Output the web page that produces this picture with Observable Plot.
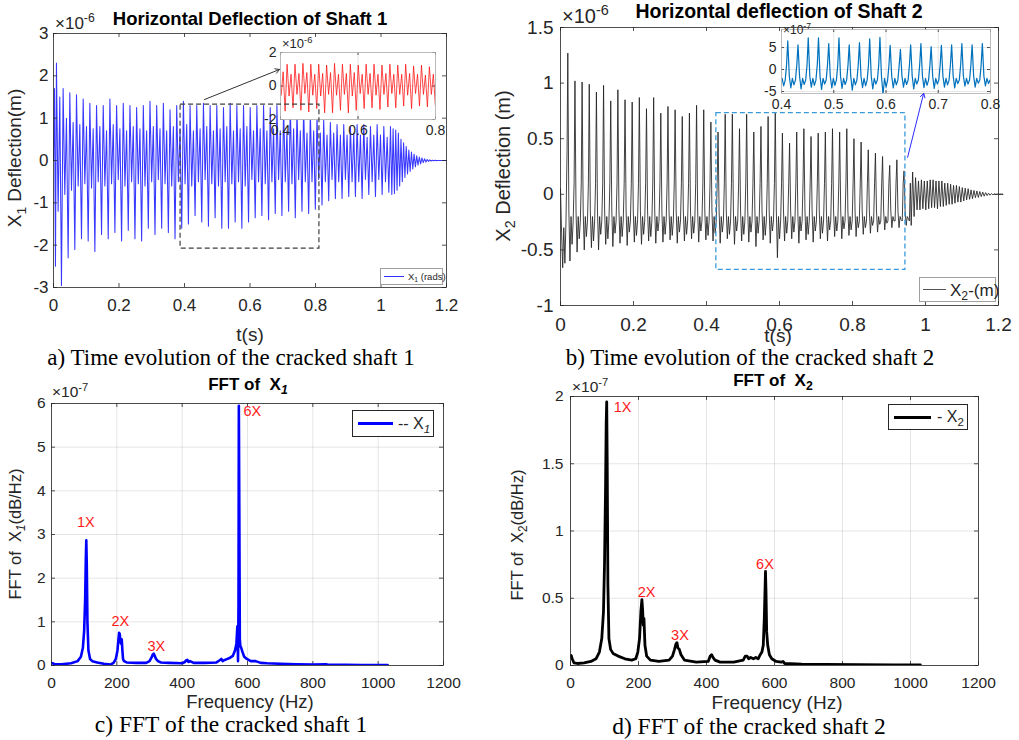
<!DOCTYPE html>
<html><head><meta charset="utf-8">
<script src="https://cdn.jsdelivr.net/npm/d3@7"></script>
<script src="https://cdn.jsdelivr.net/npm/@observablehq/plot@0.6"></script>
<style>
body{margin:0;background:#fff;}
#root{position:relative;width:1019px;height:740px;overflow:hidden;background:#fff;font-family:"Liberation Sans",Arial,sans-serif;color:#262626;}
.sub{font-size:0.72em;position:relative;top:0.35em;}
.sup{font-size:0.72em;position:relative;top:-0.55em;}
</style></head><body><div id="root"></div><script>
// ---------------- DATA ----------------
// a) Shaft 1 horizontal deflection (x1e-6 m), cycle extrema
const aStart = [[0, 0], [0.003, 1.7], [0.006, -2.5]];
const aCycleStart = 0.009, aPeriod = 0.0204;
const aPeak = [2.3, 1.7, 1.6, 1.55, 1.45, 1.35, 1.3, 1.3, 1.45, 1.3,
  1.35, 1.3, 1.25, 1.3, 1.4, 1.3, 1.35, 1.2, 1.3, 1.4,
  1.3, 1.3, 1.35, 1.3, 1.3, 1.25, 1.35, 1.3, 1.3, 1.25,
  1.3, 1.3, 1.25, 1.3, 1.25, 1.3, 1.2, 1.25, 1.15, 1.05,
  0.95, 0.9, 0.85, 0.85, 0.8, 0.85, 0.85, 0.8, 0.85, 0.8];
const aDip = [-1.2, -0.8, -0.7, -0.6, -0.55, -0.65, -0.5, -0.6, -0.55, -0.45,
  -0.6, -0.5, -0.55, -0.6, -0.5, -0.45, -0.55, -0.6, -0.5, -0.55,
  -0.6, -0.5, -0.45, -0.55, -0.6, -0.5, -0.55, -0.5, -0.6, -0.45,
  -0.5, -0.55, -0.5, -0.45, -0.5, -0.55, -0.45, -0.5, -0.5, -0.45,
  -0.5, -0.45, -0.5, -0.45, -0.5, -0.5, -0.45, -0.5, -0.45, -0.5];
const aMid = [1.5, 1.0, 0.9, 0.85, 0.8, 0.75, 0.8, 0.7, 0.85, 0.75,
  0.7, 0.8, 0.75, 0.7, 0.8, 0.75, 0.7, 0.8, 0.75, 0.85,
  0.7, 0.75, 0.8, 0.7, 0.75, 0.8, 0.7, 0.75, 0.8, 0.7,
  0.75, 0.7, 0.75, 0.7, 0.7, 0.75, 0.7, 0.65, 0.7, 0.65,
  0.6, 0.65, 0.6, 0.6, 0.65, 0.6, 0.55, 0.6, 0.6, 0.55];
const aTrough = [-2.95, -2.3, -2.1, -1.85, -1.9, -2.15, -1.75, -1.85, -1.7, -1.9,
  -1.65, -1.85, -1.9, -1.6, -1.75, -1.6, -1.7, -1.85, -1.6, -1.5,
  -1.3, -1.45, -1.55, -1.35, -1.6, -1.6, -1.45, -1.6, -1.45, -1.35,
  -1.3, -1.4, -1.25, -1.3, -1.2, -1.35, -1.2, -1.25, -1.15, -1.05,
  -0.95, -0.9, -0.9, -0.85, -0.85, -0.9, -0.8, -0.85, -0.8, -0.75];
const aTailStep = 0.004;
const aTail = [0.8, -0.8, 0.75, -0.78, 0.72, -0.7, 0.65, -0.6, 0.5, -0.5,
  0.42, -0.4, 0.33, -0.32, 0.25, -0.26, 0.2, -0.2, 0.15, -0.15,
  0.11, -0.11, 0.08, -0.08, 0.06, -0.05, 0.04, -0.035, 0.025, -0.02,
  0.015, -0.012, 0.008, -0.006, 0.004, -0.003, 0.002, -0.001, 0, 0, 0, 0];

// b) Shaft 2 horizontal deflection (x1e-6 m)
const bStart = [[0, 0.05], [0.003, -0.35], [0.006, -0.66], [0.009, -0.3], [0.012, -0.62], [0.015, -0.25], [0.018, 0.4]];
const bCycleStart = 0.02, bPeriod = 0.0196;
const bPeak = [1.27, 1.02, 1.01, 0.99, 0.92, 0.98, 0.84, 0.94, 0.85, 0.83,
  0.87, 0.77, 0.87, 0.73, 0.79, 0.76, 0.70, 0.73, 0.80, 0.76,
  0.65, 0.56, 0.72, 0.72, 0.59, 0.72, 0.56, 0.61, 0.70, 0.73,
  0.55, 0.46, 0.56, 0.59, 0.52, 0.55, 0.56, 0.59, 0.56, 0.59,
  0.50, 0.47, 0.40, 0.37, 0.34, 0.26, 0.31, 0.21];
const bLowA = [-0.6, -0.52, -0.5, -0.48, -0.5, -0.45, -0.47, -0.44, -0.46, -0.43,
  -0.45, -0.42, -0.44, -0.43, -0.41, -0.44, -0.42, -0.4, -0.43, -0.41,
  -0.42, -0.44, -0.4, -0.45, -0.42, -0.43, -0.47, -0.41, -0.44, -0.57,
  -0.42, -0.4, -0.44, -0.41, -0.43, -0.4, -0.42, -0.38, -0.4, -0.37,
  -0.38, -0.36, -0.35, -0.34, -0.32, -0.3, -0.3, -0.28];
const bLowB = [-0.45, -0.4, -0.38, -0.42, -0.36, -0.4, -0.35, -0.38, -0.34, -0.37,
  -0.36, -0.38, -0.33, -0.36, -0.37, -0.34, -0.36, -0.35, -0.33, -0.37,
  -0.35, -0.34, -0.36, -0.33, -0.36, -0.34, -0.35, -0.37, -0.33, -0.4,
  -0.35, -0.34, -0.33, -0.36, -0.33, -0.35, -0.32, -0.33, -0.31, -0.32,
  -0.3, -0.3, -0.28, -0.27, -0.26, -0.24, -0.23, -0.22];
const bInner = [-0.15, -0.2, -0.24, 0.1]; // knee, mid, mid2, rising shoulder
const bTailStep = 0.004;
const bTail = [-0.28, 0.2, -0.2, 0.15, -0.14, 0.12, -0.14, 0.13, -0.13, 0.12,
  -0.14, 0.12, -0.13, 0.13, -0.12, 0.13, -0.12, 0.12, -0.13, 0.12,
  -0.11, 0.12, -0.11, 0.1, -0.1, 0.1, -0.09, 0.09, -0.09, 0.08,
  -0.08, 0.08, -0.07, 0.07, -0.07, 0.06, -0.06, 0.055, -0.05, 0.05,
  -0.045, 0.04, -0.04, 0.035, -0.03, 0.03, -0.028, 0.025, -0.02, 0.02,
  -0.017, 0.015, -0.012, 0.01, -0.008, 0.007, -0.005, 0.004, -0.003, 0.002,
  -0.001, 0.001, 0, 0];

// c) FFT of X1 (x1e-7)
const fft1Freq = [0, 3, 10, 30, 60, 80, 90, 96, 100, 103, 105, 106.5, 108, 110, 113, 118, 125, 140, 160, 180,
  190, 197, 202, 205, 207, 209, 211, 213, 215, 217, 219, 222, 230, 260, 290, 300, 306, 310, 313, 316,
  320, 326, 335, 360, 400, 408, 413, 416, 419, 424, 435, 470, 505, 515, 520, 524, 528, 535, 545, 555,
  562, 566, 569, 571, 572.5, 573.5, 575, 576.5, 578, 581, 585, 590, 598, 610, 625, 640, 660, 700, 750, 800,
  840, 845, 900, 950, 1000, 1029];
const fft1Amp = [0.06, 0.05, 0.03, 0.03, 0.05, 0.1, 0.2, 0.4, 0.8, 1.5, 2.4, 2.87, 2.3, 1.0, 0.35, 0.15, 0.1, 0.07, 0.04, 0.02,
  0.06, 0.15, 0.35, 0.6, 0.75, 0.72, 0.55, 0.5, 0.6, 0.35, 0.15, 0.1, 0.07, 0.06, 0.06, 0.1, 0.18, 0.25, 0.27, 0.22,
  0.15, 0.1, 0.07, 0.06, 0.05, 0.08, 0.12, 0.13, 0.08, 0.1, 0.06, 0.06, 0.07, 0.12, 0.15, 0.1, 0.12, 0.14, 0.17, 0.22,
  0.35, 0.5, 0.9, 0.1, 1.4, 5.95, 3.5, 0.6, 0.45, 0.4, 0.3, 0.2, 0.15, 0.1, 0.1, 0.06, 0.05, 0.04, 0.03, 0.02,
  0.025, 0.02, 0.015, 0.012, 0.01, 0.01];
// d) FFT of X2 (x1e-7)
const fft2Freq = [0, 2, 5, 10, 20, 40, 60, 75, 85, 92, 97, 100, 103, 105, 106.5, 108, 110, 113, 118, 125,
  140, 160, 180, 192, 198, 203, 207, 210, 212, 214, 216, 219, 224, 235, 260, 290, 300, 306, 310, 313,
  316, 320, 325, 335, 370, 405, 411, 415, 419, 425, 440, 480, 508, 514, 519, 524, 530, 538, 545, 552,
  558, 563, 567, 570, 572, 573.5, 575, 577, 580, 585, 592, 605, 620, 625, 630, 680, 750, 850, 950, 1029];
const fft2Amp = [0.07, 0.075, 0.05, 0.02, 0.015, 0.02, 0.03, 0.05, 0.1, 0.2, 0.4, 0.75, 1.3, 1.8, 1.96, 1.5, 0.6, 0.2, 0.12, 0.09,
  0.07, 0.05, 0.04, 0.05, 0.1, 0.2, 0.4, 0.49, 0.42, 0.3, 0.35, 0.15, 0.07, 0.04, 0.03, 0.04, 0.07, 0.12, 0.16, 0.17,
  0.13, 0.12, 0.08, 0.04, 0.025, 0.03, 0.07, 0.08, 0.06, 0.04, 0.025, 0.025, 0.04, 0.07, 0.07, 0.05, 0.06, 0.05, 0.06, 0.05,
  0.08, 0.1, 0.15, 0.35, 0.55, 0.7, 0.55, 0.25, 0.15, 0.08, 0.05, 0.03, 0.025, 0.03, 0.015, 0.01, 0.008, 0.006, 0.005, 0.005];

const annC = [{label: "1X", f: 105, a: 3.28}, {label: "2X", f: 211, a: 1.01}, {label: "3X", f: 321, a: 0.44}, {label: "6X", f: 615, a: 5.83}];
const annD = [{label: "1X", f: 153, a: 1.92}, {label: "2X", f: 224, a: 0.545}, {label: "3X", f: 322, a: 0.223}, {label: "6X", f: 572, a: 0.751}];

const zoomRectA = [{x1: 0.388, x2: 0.812, y1: -2.08, y2: 1.32}];
const arrowA = [{x1: 0.461, y1: 1.44, x2: 0.69, y2: 2.15}];
const zoomRectB = [{x1: 0.427, x2: 0.945, y1: -0.68, y2: 0.73}];
const arrowB = [{x1: 0.951, y1: 0.333, x2: 0.995, y2: 0.908}];

const tTicks = [0, 0.2, 0.4, 0.6, 0.8, 1, 1.2];
const aYTicks = [-3, -2, -1, 0, 1, 2, 3];
const bYTicks = [-1, -0.5, 0, 0.5, 1, 1.5];
const fTicks = [0, 200, 400, 600, 800, 1000, 1200];
const cYTicks = [0, 1, 2, 3, 4, 5, 6];
const dYTicks = [0, 0.5, 1, 1.5, 2];
const insetATicksX = [0.4, 0.6, 0.8], insetATicksY = [-2, 0, 2];
const insetBTicksX = [0.4, 0.5, 0.6, 0.7, 0.8], insetBTicksY = [-5, 0, 5];

// ---------------- BUILD SERIES ----------------
const sigA = aStart.map(([t, v]) => ({t, v}));
aPeak.forEach((p, k) => {
  const t = aCycleStart + k * aPeriod;
  sigA.push({t, v: p}, {t: t + aPeriod * 0.25, v: aDip[k]}, {t: t + aPeriod * 0.5, v: aMid[k]}, {t: t + aPeriod * 0.75, v: aTrough[k]});
});
const aTailStart = aCycleStart + aPeak.length * aPeriod;
aTail.forEach((v, i) => sigA.push({t: aTailStart + i * aTailStep, v}));
sigA.push({t: 1.2, v: 0});

const sigB = bStart.map(([t, v]) => ({t, v}));
bPeak.forEach((p, k) => {
  const t = bCycleStart + k * bPeriod;
  sigB.push({t, v: p},
    {t: t + bPeriod * 0.15, v: bInner[0]}, {t: t + bPeriod * 0.3, v: bLowA[k]},
    {t: t + bPeriod * 0.45, v: bInner[1]}, {t: t + bPeriod * 0.6, v: bLowB[k]},
    {t: t + bPeriod * 0.75, v: bInner[2]}, {t: t + bPeriod * 0.88, v: bInner[3]});
});
const bTailStart = bCycleStart + bPeak.length * bPeriod;
bTail.forEach((v, i) => sigB.push({t: bTailStart + i * bTailStep, v}));
sigB.push({t: 1.2, v: 0});

const insetA = sigA.filter(d => d.t >= 0.4 && d.t <= 0.8);
const insetB = sigB.filter(d => d.t >= 0.4 && d.t <= 0.8).map(d => ({t: d.t, v: d.v * 10}));
const fft1 = fft1Freq.map((f, i) => ({f, a: fft1Amp[i]}));
const fft2 = fft2Freq.map((f, i) => ({f, a: fft2Amp[i]}));

// ---------------- HELPERS ----------------
const root = document.getElementById("root");
const FONT = '"Liberation Sans", Arial, Helvetica, sans-serif';
const SERIF = '"Liberation Serif", "Times New Roman", serif';
const INK = "#262626";
function place(el, left, top) {
  el.style.position = "absolute"; el.style.left = left + "px"; el.style.top = top + "px";
  root.appendChild(el);
}
function txt(html, x, y, o = {}) {
  const {size = 16, weight = "normal", family = FONT, color = INK, anchor = "middle", rotate = false} = o;
  const d = document.createElement("div");
  d.innerHTML = html;
  const tx = anchor === "start" ? "0" : anchor === "end" ? "-100%" : "-50%";
  d.style.cssText = `position:absolute;left:${x}px;top:${y}px;white-space:nowrap;line-height:1;font-size:${size}px;font-weight:${weight};font-family:${family};color:${color};transform:translate(${tx},-50%)${rotate ? " rotate(-90deg)" : ""};`;
  root.appendChild(d);
}
function legend({left, top, width, height, border, lineLeft, lineW, thick, color, html, textLeft, size}) {
  const box = document.createElement("div");
  box.style.cssText = `position:absolute;left:${left}px;top:${top}px;width:${width}px;height:${height}px;box-sizing:border-box;border:1px solid ${border};background:#fff;`;
  const ln = document.createElement("div");
  ln.style.cssText = `position:absolute;left:${lineLeft}px;top:${height / 2 - 1 - thick / 2}px;width:${lineW}px;height:${thick}px;background:${color};`;
  const t = document.createElement("div");
  t.innerHTML = html;
  t.style.cssText = `position:absolute;left:${textLeft}px;top:${height / 2 - 1}px;transform:translateY(-50%);white-space:nowrap;line-height:1;font-size:${size}px;font-family:${FONT};color:${INK};`;
  box.appendChild(ln); box.appendChild(t);
  root.appendChild(box);
}
function axes({xTicks, yTicks, fw, fh, tick = 4, xPad, yPad, grid = false}) {
  const m = [];
  if (grid) {
    m.push(Plot.gridX(xTicks, {stroke: "#000", strokeOpacity: 0.1}));
    m.push(Plot.gridY(yTicks, {stroke: "#000", strokeOpacity: 0.1}));
  }
  m.push(Plot.tickX(xTicks, {x: d => d, stroke: INK, strokeWidth: 0.8, insetTop: fh - tick}));
  m.push(Plot.tickX(xTicks, {x: d => d, stroke: INK, strokeWidth: 0.8, insetBottom: fh - tick}));
  m.push(Plot.tickY(yTicks, {y: d => d, stroke: INK, strokeWidth: 0.8, insetRight: fw - tick}));
  m.push(Plot.tickY(yTicks, {y: d => d, stroke: INK, strokeWidth: 0.8, insetLeft: fw - tick}));
  m.push(Plot.axisX(xTicks, {tickSize: 0, tickPadding: xPad, label: null, tickFormat: d => String(d), fill: INK}));
  m.push(Plot.axisY(yTicks, {tickSize: 0, tickPadding: yPad, label: null, tickFormat: d => String(d), fill: INK}));
  return m;
}
const st = (fs) => ({fontFamily: FONT, fontSize: fs + "px", color: INK, background: "transparent", overflow: "visible", maxWidth: "none"});

// ---------------- PANEL A ----------------
place(Plot.plot({
  width: 500, height: 330, marginLeft: 53, marginRight: 54, marginTop: 33, marginBottom: 43,
  x: {domain: [0, 1.2]}, y: {domain: [-3, 3]}, style: st(17),
  marks: [
    Plot.line(sigA, {x: "t", y: "v", stroke: "#1515ff", strokeWidth: 1.05, strokeOpacity: 0.85}),
    ...axes({xTicks: tTicks, yTicks: aYTicks, fw: 393, fh: 254, xPad: 11, yPad: 5}),
    Plot.frame({stroke: INK, strokeWidth: 0.8})
  ]
}), 0, 0);
place(Plot.plot({
  width: 205, height: 115, marginLeft: 35, marginRight: 15, marginTop: 22, marginBottom: 26,
  x: {domain: [0.4, 0.8]}, y: {domain: [-2, 2]}, style: st(14),
  marks: [
    Plot.frame({fill: "#fff"}),
    ...axes({xTicks: insetATicksX, yTicks: insetATicksY, fw: 155, fh: 67, tick: 3, xPad: 6, yPad: 4, grid: true}),
    Plot.line(insetA, {x: "t", y: "v", stroke: "#ff1010", strokeWidth: 0.9, strokeOpacity: 0.85, clip: true}),
    Plot.frame({stroke: "#b0b0b0", strokeWidth: 0.8})
  ]
}), 245, 30);
place(Plot.plot({
  width: 500, height: 330, marginLeft: 53, marginRight: 54, marginTop: 33, marginBottom: 43,
  x: {domain: [0, 1.2], axis: null}, y: {domain: [-3, 3], axis: null}, style: st(17),
  marks: [
    Plot.rect(zoomRectA, {x1: "x1", x2: "x2", y1: "y1", y2: "y2", fill: "none", stroke: "#404040", strokeWidth: 1.2, strokeDasharray: "5,3"}),
    Plot.arrow(arrowA, {x1: "x1", y1: "y1", x2: "x2", y2: "y2", stroke: "#333", strokeWidth: 1, headLength: 7})
  ]
}), 0, 0);

// ---------------- PANEL B ----------------
place(Plot.plot({
  width: 519, height: 330, marginLeft: 60, marginRight: 21, marginTop: 27, marginBottom: 25,
  x: {domain: [0, 1.2]}, y: {domain: [-1, 1.5]}, style: st(19),
  marks: [
    Plot.line(sigB, {x: "t", y: "v", stroke: "#222", strokeWidth: 1.0, strokeOpacity: 0.85}),
    ...axes({xTicks: tTicks, yTicks: bYTicks, fw: 438, fh: 278, xPad: 12, yPad: 7}),
    Plot.frame({stroke: INK, strokeWidth: 0.8})
  ]
}), 500, 0);
place(Plot.plot({
  width: 270, height: 100, marginLeft: 41, marginRight: 20, marginTop: 14, marginBottom: 22,
  x: {domain: [0.4, 0.8]}, y: {domain: [-5.45, 9.1]}, style: st(14),
  marks: [
    Plot.frame({fill: "#fff"}),
    ...axes({xTicks: insetBTicksX, yTicks: insetBTicksY, fw: 209, fh: 64, tick: 3, xPad: 6, yPad: 5, grid: true}),
    Plot.line(insetB, {x: "t", y: "v", stroke: "#0072BD", strokeWidth: 1.2, clip: true}),
    Plot.frame({stroke: "#b0b0b0", strokeWidth: 0.8})
  ]
}), 740, 15);
place(Plot.plot({
  width: 519, height: 330, marginLeft: 60, marginRight: 21, marginTop: 27, marginBottom: 25,
  x: {domain: [0, 1.2], axis: null}, y: {domain: [-1, 1.5], axis: null}, style: st(19),
  marks: [
    Plot.rect(zoomRectB, {x1: "x1", x2: "x2", y1: "y1", y2: "y2", fill: "none", stroke: "#3a9ad9", strokeWidth: 1.3, strokeDasharray: "5,3"}),
    Plot.arrow(arrowB, {x1: "x1", y1: "y1", x2: "x2", y2: "y2", stroke: "#2a2aff", strokeWidth: 1, headLength: 7})
  ]
}), 500, 0);

// ---------------- PANEL C ----------------
place(Plot.plot({
  width: 500, height: 320, marginLeft: 51, marginRight: 57, marginTop: 33, marginBottom: 25,
  x: {domain: [0, 1200]}, y: {domain: [0, 6]}, style: st(15.5),
  marks: [
    ...axes({xTicks: fTicks, yTicks: cYTicks, fw: 392, fh: 262, xPad: 11, yPad: 6, grid: true}),
    Plot.line(fft1, {x: "f", y: "a", stroke: "#0000ff", strokeWidth: 2.6, clip: true}),
    Plot.frame({stroke: INK, strokeWidth: 0.8}),
    Plot.text(annC, {x: "f", y: "a", text: "label", fill: "#ff1a1a", fontSize: 14.5})
  ]
}), 0, 370);

// ---------------- PANEL D ----------------
place(Plot.plot({
  width: 519, height: 320, marginLeft: 70, marginRight: 41, marginTop: 26, marginBottom: 25,
  x: {domain: [0, 1200]}, y: {domain: [0, 2]}, style: st(15.5),
  marks: [
    ...axes({xTicks: fTicks, yTicks: dYTicks, fw: 408, fh: 269, xPad: 11, yPad: 7, grid: true}),
    Plot.line(fft2, {x: "f", y: "a", stroke: "#000", strokeWidth: 2.8, clip: true}),
    Plot.frame({stroke: INK, strokeWidth: 0.8}),
    Plot.text(annD, {x: "f", y: "a", text: "label", fill: "#ff1a1a", fontSize: 14.5})
  ]
}), 500, 370);

// ---------------- TEXT ----------------
txt("Horizontal Deflection of Shaft 1", 250, 19, {size: 18.5, weight: "bold", color: "#000"});
txt('×10<span class="sup">-6</span>', 55, 23, {size: 17, anchor: "start"});
txt('X<span class="sub">1</span> Deflection(m)', 14, 158, {size: 19, rotate: true});
txt("t(s)", 250, 334, {size: 19});
txt("a) Time evolution of the cracked shaft 1", 231, 357, {size: 23, family: SERIF, color: "#000"});
txt('×10<span class="sup">-6</span>', 282, 44, {size: 13, anchor: "start"});

txt("Horizontal deflection of Shaft 2", 779, 12, {size: 19.5, weight: "bold", color: "#000"});
txt('×10<span class="sup">-6</span>', 562, 16, {size: 20, anchor: "start"});
txt('X<span class="sub">2</span> Deflection (m)', 503, 166, {size: 20, rotate: true});
txt("t(s)", 778, 335, {size: 19});
txt("b) Time evolution of the cracked shaft 2", 750, 357, {size: 23, family: SERIF, color: "#000"});
txt('×10<span class="sup">-7</span>', 783, 30, {size: 12, anchor: "start"});

txt('FFT of&nbsp; X<span class="sub" style="font-style:italic">1</span>', 248, 384, {size: 17, weight: "bold", color: "#000"});
txt('×10<span class="sup">-7</span>', 52, 392, {size: 15.5, anchor: "start"});
txt('FFT of&nbsp; X<span class="sub" style="font-style:italic">1</span>(dB/Hz)', 15, 534, {size: 16.5, rotate: true});
txt("Frequency (Hz)", 250, 702, {size: 18.5});
txt("c) FFT of the cracked shaft 1", 231, 725, {size: 23.5, family: SERIF, color: "#000"});

txt('FFT of&nbsp; X<span class="sub">2</span>', 773, 380, {size: 17, weight: "bold", color: "#000"});
txt('×10<span class="sup">-7</span>', 572, 387, {size: 15.5, anchor: "start"});
txt('FFT of&nbsp; X<span class="sub">2</span>(dB/Hz)', 517, 535, {size: 16.5, rotate: true});
txt("Frequency (Hz)", 777, 702, {size: 19});
txt("d) FFT of the cracked shaft 2", 749, 727, {size: 23.5, family: SERIF, color: "#000"});

// ---------------- LEGENDS ----------------
legend({left: 380, top: 268, width: 63, height: 17, border: "#a0a0a0", lineLeft: 3, lineW: 20, thick: 1, color: "#3030ff",
  html: 'X<span class="sub">1</span> (rads)', textLeft: 27, size: 9.5});
legend({left: 919, top: 277, width: 77, height: 25, border: "#a0a0a0", lineLeft: 3, lineW: 23, thick: 1, color: "#555",
  html: 'X<span class="sub">2</span>-(m)', textLeft: 30, size: 17});
legend({left: 352, top: 410, width: 82, height: 27, border: INK, lineLeft: 5, lineW: 35, thick: 3, color: "#0000ff",
  html: '-- X<span class="sub" style="font-style:italic">1</span>', textLeft: 45, size: 16});
legend({left: 888, top: 404, width: 80, height: 26, border: INK, lineLeft: 5, lineW: 37, thick: 3, color: "#000",
  html: '- X<span class="sub">2</span>', textLeft: 48, size: 16});
</script></body></html>
